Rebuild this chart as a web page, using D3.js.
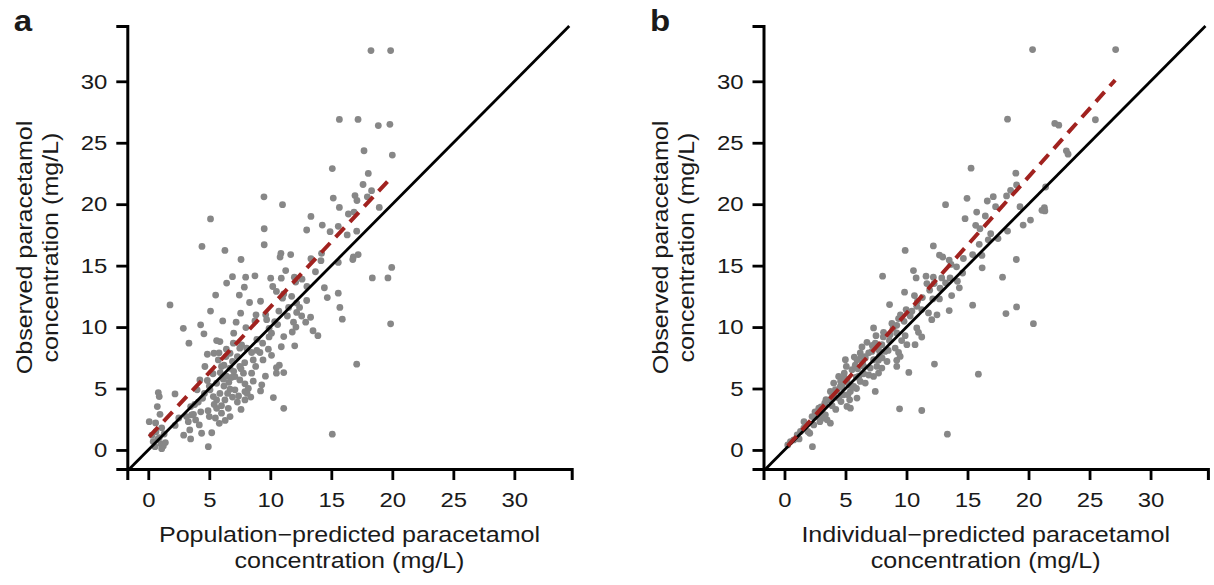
<!DOCTYPE html>
<html>
<head>
<meta charset="utf-8">
<script src="https://cdn.jsdelivr.net/npm/d3@7"></script>
<style>
  body { margin: 0; background: #fff; }
  svg { display: block; }
  text { font-family: "Liberation Sans", Arial, Helvetica, sans-serif; fill: #1a1a1a; }
</style>
</head>
<body>
<script>
// panel a: population-predicted vs observed (mg/L)
const popPredA = [
  18.25, 19.86, 15.66, 17.19, 18.85, 19.8, 17.68, 20.0, 15.08, 18.03,
  17.6, 18.3, 17.95, 9.48, 15.16, 16.94, 17.1, 11.0, 15.66, 16.4,
  16.86, 18.93, 5.1, 13.33, 12.98, 14.26, 14.9, 15.57, 17.08, 9.5,
  9.5, 4.4, 6.28, 10.87, 11.67, 7.6, 10.8, 13.33, 14.15, 15.57,
  16.8, 17.2, 16.76, 6.9, 7.98, 8.74, 6.42, 7.87, 10.03, 11.26,
  10.9, 11.97, 12.08, 10.2, 10.5, 11.1, 11.0, 11.75, 12.98, 14.43,
  14.67, 15.57, 18.36, 19.64, 19.95, 19.86, 17.08, 15.08, 1.78, 5.52,
  7.46, 5.1, 7.57, 8.83, 9.62, 8.74, 9.7, 12.16, 12.4, 12.16,
  12.57, 13.3, 15.7, 15.9, 12.1, 13.5, 13.9, 10.36, 10.1, 11.1,
  12.0, 10.9, 10.74, 10.5, 11.1, 10.5, 2.87, 4.29, 4.56, 3.33,
  5.87, 7.0, 8.0, 6.97, 7.65, 8.06, 8.47, 9.15, 9.84, 9.37,
  8.6, 9.4, 4.84, 5.38, 5.74, 6.37, 6.7, 7.5, 6.0, 6.7,
  4.64, 7.5, 7.8, 8.47, 7.1, 4.23, 4.84, 6.15, 5.6, 7.5,
  7.92, 6.7, 7.1, 7.92, 9.2, 5.87, 5.33, 5.06, 4.0, 4.45,
  5.6, 6.28, 7.92, 2.19, 0.82, 0.9, 0.74, 0.96, 0.08, 0.63,
  0.77, 0.55, 1.04, 1.23, 0.4, 3.47, 3.55, 3.28, 3.4, 3.47,
  4.37, 4.92, 5.0, 5.6, 6.0, 5.82, 6.7, 6.56, 10.25, 11.1,
  3.88, 4.18, 3.14, 5.3, 5.9, 6.4, 6.9, 7.3, 7.0, 6.2,
  6.6, 5.0, 4.6, 5.4, 6.0, 6.9, 7.3, 8.2, 8.6, 6.4,
  5.6, 4.3, 3.8, 2.5, 1.3, 0.9, 1.1, 2.2, 8.9, 9.9,
  11.4, 11.9, 13.0, 12.6, 11.5, 10.7, 9.2, 7.2, 8.3, 6.1,
  13.7, 14.2, 16.3, 4.9, 5.5, 6.3, 7.6, 8.4, 8.8, 9.6,
  6.8, 7.6, 6.2, 5.8, 7.9, 8.9, 9.9, 10.6, 11.8, 12.9,
  0.6, 1.1, 0.3, 1.4, 4.1, 3.7, 2.9, 5.2, 6.5, 7.4,
  8.1, 9.3, 10.1
];
const observedA = [
  32.5, 32.5, 26.9, 26.9, 26.4, 26.5, 24.35, 24.0, 22.9, 22.5,
  21.6, 21.1, 20.6, 20.6, 20.5, 20.7, 20.3, 19.96, 19.74, 19.2,
  19.36, 19.74, 18.8, 19.0, 17.9, 18.3, 17.76, 18.2, 17.8, 18.0,
  16.7, 16.56, 16.24, 16.0, 15.9, 15.5, 15.7, 15.56, 15.4, 15.26,
  15.7, 15.9, 15.5, 14.1, 14.06, 14.17, 13.58, 13.25, 13.98, 14.6,
  13.98, 14.06, 13.66, 13.3, 12.9, 12.7, 12.35, 12.5, 12.16, 13.2,
  12.4, 12.76, 14.0, 14.0, 14.85, 10.26, 6.98, 1.28, 11.8, 12.6,
  12.6, 11.3, 11.13, 11.0, 11.0, 10.5, 10.6, 11.95, 11.6, 11.19,
  10.9, 10.8, 11.6, 10.64, 10.0, 9.7, 9.3, 10.45, 9.5, 9.23,
  8.47, 8.4, 6.9, 6.25, 6.3, 6.7, 9.9, 10.18, 9.45, 8.69,
  8.82, 9.5, 9.96, 8.69, 8.55, 8.28, 7.93, 7.93, 8.2, 8.69,
  7.33, 7.33, 7.79, 7.87, 7.33, 7.6, 7.87, 8.28, 6.79, 6.65,
  6.79, 6.79, 6.25, 6.25, 5.97, 5.7, 5.65, 5.76, 5.43, 5.7,
  5.38, 4.94, 4.89, 4.75, 4.8, 4.6, 4.34, 4.89, 4.89, 4.2,
  4.07, 4.07, 4.07, 4.56, 4.67, 4.34, 3.53, 2.9, 2.3, 1.49,
  0.87, 0.27, 0.49, 0.33, 0.68, 3.53, 2.85, 2.3, 1.63, 0.9,
  1.36, 0.27, 2.72, 3.39, 2.99, 2.17, 2.72, 3.39, 4.26, 3.39,
  2.44, 2.04, 2.72, 6.2, 6.3, 6.0, 7.2, 7.6, 6.4, 5.2,
  5.5, 5.2, 4.6, 3.7, 3.6, 4.3, 3.9, 5.0, 5.6, 8.2,
  8.9, 3.1, 3.7, 2.6, 1.3, 1.0, 0.1, 2.0, 9.0, 9.2,
  10.9, 10.4, 13.3, 13.9, 11.6, 11.3, 12.1, 10.4, 12.0, 10.5,
  14.5, 16.0, 17.5, 3.2, 2.6, 2.4, 3.3, 4.3, 6.8, 6.0,
  5.9, 6.6, 6.9, 7.9, 7.1, 8.1, 9.9, 10.2, 9.6, 10.4,
  2.2, 1.8, 1.2, 0.6, 3.9, 2.9, 1.2, 1.4, 4.6, 4.4,
  4.6, 5.3, 7.7
];

// panel b: individual-predicted vs observed (mg/L)
const indPredB = [
  20.33, 27.14, 18.28, 25.48, 22.15, 22.48, 23.1, 23.24, 15.29, 18.96,
  19.02, 18.53, 18.2, 17.11, 16.62, 13.2, 14.96, 15.75, 16.46, 14.8,
  15.67, 16.02, 18.28, 19.56, 20.16, 21.3, 21.34, 9.89, 12.2, 12.7,
  12.97, 13.5, 13.65, 14.66, 15.42, 15.96, 16.18, 16.2, 19.0, 8.04,
  10.57, 10.79, 11.6, 12.2, 12.89, 11.67, 12.26, 12.75, 13.57, 14.17,
  14.33, 13.7, 13.5, 9.84, 10.65, 10.84, 11.25, 11.8, 12.07, 12.15,
  12.7, 8.61, 9.97, 10.44, 9.35, 9.8, 9.2, 15.42, 17.87, 18.15,
  19.02, 20.4, 15.89, 13.35, 12.29, 10.19, 9.43, 11.25, 7.3, 8.12,
  8.66, 9.2, 10.84, 10.98, 11.25, 9.89, 10.03, 10.7, 9.07, 9.35,
  9.48, 9.2, 9.2, 7.71, 7.44, 6.76, 7.98, 8.25, 7.17, 6.35,
  6.21, 5.72, 6.62, 5.94, 7.3, 7.57, 7.98, 7.03, 7.71, 7.3,
  6.49, 6.49, 4.99, 5.07, 4.9, 5.12, 5.53, 5.89, 6.21, 6.62,
  7.44, 5.67, 5.4, 5.94, 5.34, 5.12, 5.4, 4.58, 4.17, 3.76,
  4.03, 3.71, 4.44, 4.63, 4.85, 2.81, 3.08, 2.67, 3.35, 3.49,
  3.76, 2.26, 2.4, 2.07, 1.58, 1.31, 1.04, 0.76, 0.49, 0.27,
  2.29, 1.91, 3.08, 4.44, 4.8, 4.03, 3.9, 4.2, 3.3, 2.9,
  1.8, 1.2, 6.9, 8.6, 10.3, 11.3, 13.2, 14.6, 16.7, 17.5,
  6.0, 5.6, 8.9, 12.5, 14.1, 16.9, 17.3, 19.3, 21.1, 21.4,
  8.4, 7.8, 6.4, 5.2, 4.6, 3.4, 3.0, 4.3, 4.9, 5.8,
  6.6, 7.2, 8.1, 8.8, 9.5, 10.9, 11.9, 5.3, 6.1, 6.9,
  7.7, 8.5, 9.6, 3.9, 2.5, 1.6, 6.3, 7.5, 4.7, 5.9,
  8.0
];
const observedB = [
  32.58, 32.58, 26.92, 26.87, 26.57, 26.43, 24.34, 24.07, 22.93, 22.52,
  21.57, 21.13, 20.67, 20.61, 20.26, 19.96, 20.48, 19.36, 19.04, 18.82,
  18.28, 18.0, 17.81, 18.3, 18.71, 19.72, 19.45, 16.24, 16.6, 15.86,
  15.7, 15.45, 15.1, 15.58, 15.9, 16.73, 15.83, 14.82, 15.5, 14.14,
  14.6, 14.0, 14.14, 14.06, 14.0, 13.54, 13.54, 13.16, 14.0, 13.73,
  13.19, 12.56, 11.34, 12.84, 12.56, 11.69, 11.42, 11.15, 10.6, 12.29,
  12.29, 11.83, 11.42, 11.29, 10.69, 10.47, 10.14, 11.78, 14.06, 11.1,
  11.64, 10.28, 6.17, 1.28, 6.99, 6.31, 3.35, 3.21, 9.93, 9.57,
  9.38, 9.52, 9.93, 9.57, 9.19, 9.3, 8.57, 8.57, 8.29, 7.94,
  7.61, 7.29, 6.8, 8.16, 8.7, 8.76, 8.57, 8.02, 8.02, 8.38,
  7.89, 7.56, 7.48, 7.34, 7.34, 6.8, 6.66, 6.66, 6.26, 5.98,
  6.2, 6.8, 7.34, 6.8, 6.26, 5.71, 6.53, 5.93, 5.58, 5.44,
  4.76, 5.17, 4.76, 4.22, 4.08, 3.54, 3.4, 5.17, 4.9, 4.76,
  4.49, 4.08, 4.22, 3.94, 4.49, 3.4, 3.13, 2.72, 2.86, 2.45,
  2.18, 2.72, 2.04, 1.36, 1.77, 1.5, 1.22, 0.82, 0.68, 0.41,
  0.27, 1.5, 2.58, 5.98, 5.44, 5.44, 3.6, 3.3, 3.8, 2.3,
  2.1, 0.9, 7.9, 8.9, 10.9, 12.4, 13.6, 14.4, 17.1, 17.2,
  6.6, 5.1, 9.9, 11.0, 14.9, 17.6, 19.8, 19.8, 19.5, 21.4,
  7.2, 7.7, 7.1, 4.5, 5.6, 4.1, 3.5, 4.8, 5.9, 6.9,
  7.6, 8.5, 9.2, 10.3, 11.0, 12.1, 13.0, 5.3, 6.0, 6.1,
  7.3, 8.1, 8.9, 4.3, 3.1, 2.3, 7.6, 9.3, 5.1, 5.0,
  7.5
];

// fitted trend lines (end points, mg/L)
const fitXA = [0.08, 20.0];
const fitYA = [1.08, 22.26];
const fitXB = [0.27, 27.1];
const fitYB = [0.33, 30.1];

const ticks = [0, 5, 10, 15, 20, 25, 30];

const panels = [
  { label: "a", xs: popPredA, ys: observedA, fx: fitXA, fy: fitYA,
    xTitle: ["Population\u2212predicted paracetamol", "concentration (mg/L)"] },
  { label: "b", xs: indPredB, ys: observedB, fx: fitXB, fy: fitYB,
    xTitle: ["Individual\u2212predicted paracetamol", "concentration (mg/L)"] }
];
const yTitle = ["Observed paracetamol", "concentration (mg/L)"];

const width = 1214, height = 585;
const plotLefts = [127.3, 763.5];
const plotW = 444.4, plotTop = 26, plotBottom = 469;
const stretch = 1.14; // text in the figure is a bit wide
const xDomain = [-1.72, 34.7], yDomain = [-1.55, 34.5];

const svg = d3.select("body").append("svg")
  .attr("width", width)
  .attr("height", height);

panels.forEach((p, k) => {
  const left = plotLefts[k];
  const x = d3.scaleLinear().domain(xDomain).range([left, left + plotW]);
  const y = d3.scaleLinear().domain(yDomain).range([plotBottom, plotTop]);
  const g = svg.append("g");

  // points
  g.append("g").selectAll("circle")
    .data(p.xs.map((v, i) => [v, p.ys[i]]))
    .enter()
    .append("circle")
    .attr("cx", d => x(d[0]))
    .attr("cy", d => y(d[1]))
    .attr("r", 3.4)
    .attr("fill", "#878787");

  // line of identity
  const lo = Math.max(xDomain[0], yDomain[0]);
  const hi = Math.min(xDomain[1], yDomain[1]);
  g.append("path")
    .datum([lo, hi])
    .attr("d", d3.line().x(d => x(d)).y(d => y(d)))
    .attr("stroke", "#000")
    .attr("stroke-width", 2.8)
    .attr("fill", "none");

  // trend
  g.append("path")
    .datum(p.fx.map((v, i) => [v, p.fy[i]]))
    .attr("d", d3.line().x(d => x(d[0])).y(d => y(d[1])))
    .attr("stroke", "#a1221f")
    .attr("stroke-width", 4)
    .attr("stroke-dasharray", "13,8")
    .attr("fill", "none");

  // axes
  const xAxis = g.append("g")
    .attr("transform", `translate(0,${plotBottom})`)
    .call(d3.axisBottom(x).tickValues(ticks).tickSizeOuter(0).tickSize(11).tickPadding(12));
  const yAxis = g.append("g")
    .attr("transform", `translate(${left},0)`)
    .call(d3.axisLeft(y).tickValues(ticks).tickSizeOuter(0).tickSize(11).tickPadding(9));

  [xAxis, yAxis].forEach(a => {
    a.select(".domain").attr("stroke-width", 3).attr("stroke", "#000");
    a.selectAll(".tick line").attr("stroke-width", 2.8).attr("stroke", "#000");
    a.selectAll(".tick text")
      .attr("font-size", 21)
      .attr("font-family", "'Liberation Sans', Arial, sans-serif")
      .attr("fill", "#1a1a1a");
  });
  xAxis.selectAll(".tick text").attr("transform", `scale(${stretch},1)`);
  yAxis.selectAll(".tick text")
    .attr("x", -20 / stretch)
    .attr("transform", `scale(${stretch},1)`);

  // axis titles
  const cx = left + plotW / 2;
  p.xTitle.forEach((t, i) => {
    g.append("text")
      .attr("transform", `translate(${cx},${542.3 + i * 26}) scale(${stretch},1)`)
      .attr("text-anchor", "middle")
      .attr("font-size", 22)
      .text(t);
  });
  const cy = (plotTop + plotBottom) / 2;
  yTitle.forEach((t, i) => {
    g.append("text")
      .attr("transform", `translate(${left - 95.6 + i * 25.8},${cy}) rotate(-90) scale(${stretch},1)`)
      .attr("text-anchor", "middle")
      .attr("font-size", 22)
      .text(t);
  });

  // panel letter
  g.append("text")
    .attr("transform", `translate(${left - 113.5},${31}) scale(${stretch},1)`)
    .attr("font-size", 29)
    .attr("font-weight", "bold")
    .attr("fill", "#000")
    .text(p.label);
});
</script>
</body>
</html>
